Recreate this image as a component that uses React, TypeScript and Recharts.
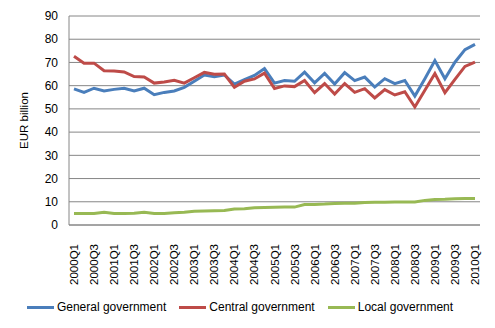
import React from 'react';
import { LineChart, Line, XAxis, YAxis, CartesianGrid, Legend } from 'recharts';

const quarters = [
  '2000Q1', '2000Q2', '2000Q3', '2000Q4', '2001Q1', '2001Q2', '2001Q3', '2001Q4',
  '2002Q1', '2002Q2', '2002Q3', '2002Q4', '2003Q1', '2003Q2', '2003Q3', '2003Q4',
  '2004Q1', '2004Q2', '2004Q3', '2004Q4', '2005Q1', '2005Q2', '2005Q3', '2005Q4',
  '2006Q1', '2006Q2', '2006Q3', '2006Q4', '2007Q1', '2007Q2', '2007Q3', '2007Q4',
  '2008Q1', '2008Q2', '2008Q3', '2008Q4', '2009Q1', '2009Q2', '2009Q3', '2009Q4',
  '2010Q1',
];

const general = [
  58.6, 57.1, 58.9, 57.7, 58.4, 58.9, 57.7, 58.9,
  56.1, 57.1, 57.7, 59.3, 61.9, 64.6, 63.9, 64.6,
  60.7, 62.6, 64.4, 67.4, 61.1, 62.2, 61.9, 65.8,
  61.2, 65.3, 60.7, 65.6, 62.2, 63.7, 59.4, 63.0,
  60.9, 62.2, 55.5, 63.0, 70.8, 63.0, 70.1, 75.5,
  77.8,
];

const central = [
  72.7, 69.7, 69.7, 66.4, 66.3, 65.9, 63.9, 63.7,
  61.1, 61.6, 62.3, 61.1, 63.4, 65.7, 64.9, 65.0,
  59.3, 61.9, 62.9, 65.4, 58.8, 59.9, 59.6, 62.2,
  57.0, 60.9, 56.4, 60.9, 57.1, 58.7, 54.7, 58.3,
  56.0, 57.4, 50.8, 58.0, 65.2, 57.0, 62.7, 68.3,
  70.1,
];

const local = [
  5.0, 5.0, 5.0, 5.5, 5.0, 5.0, 5.1, 5.5,
  5.0, 5.0, 5.3, 5.5, 5.9, 6.0, 6.1, 6.2,
  6.9, 7.0, 7.4, 7.5, 7.6, 7.7, 7.7, 8.8,
  8.8, 9.0, 9.3, 9.4, 9.4, 9.7, 9.8, 9.8,
  9.9, 9.9, 9.9, 10.6, 11.0, 11.1, 11.3, 11.4,
  11.4,
];

const yTicks = [0, 10, 20, 30, 40, 50, 60, 70, 80, 90];

const series = [
  { key: 'general', name: 'General government', color: '#4a7ebb' },
  { key: 'central', name: 'Central government', color: '#be4b48' },
  { key: 'local', name: 'Local government', color: '#98b954' },
];

const data = quarters.map((q, i) => ({
  quarter: q,
  general: general[i],
  central: central[i],
  local: local[i],
}));

const FONT = '"Liberation Sans", Arial, sans-serif';

const QuarterTick = (props: any) => {
  const { x, y, payload } = props;
  const ty = y + 11;
  return (
    <text
      x={x}
      y={ty}
      dy={4}
      transform={`rotate(-90, ${x}, ${ty})`}
      textAnchor="end"
      fontSize={11.5}
      fontFamily={FONT}
      fill="#000"
    >
      {payload.value}
    </text>
  );
};

const LegendContent = () => (
  <div
    style={{
      display: 'flex',
      justifyContent: 'center',
      alignItems: 'center',
      height: 26,
      fontFamily: FONT,
      fontSize: 12,
      color: '#000',
      gap: 13,
    }}
  >
    {series.map((s) => (
      <div key={s.key} style={{ display: 'flex', alignItems: 'center' }}>
        <div style={{ width: 27, height: 3, background: s.color, marginRight: 3 }} />
        <span>{s.name}</span>
      </div>
    ))}
  </div>
);

export default function App() {
  return (
    <div style={{ position: 'absolute', left: 0, top: 0, width: 495, height: 328, background: '#fff' }}>
      <LineChart
        width={495}
        height={328}
        data={data}
        margin={{ top: 16, right: 15, bottom: 8, left: 0 }}
      >
        <CartesianGrid vertical={false} stroke="#868686" strokeWidth={1} />
        <XAxis
          dataKey="quarter"
          interval={1}
          tick={<QuarterTick />}
          tickLine={false}
          axisLine={{ stroke: '#868686' }}
          padding={{ left: 5, right: 5 }}
          height={69}
        />
        <YAxis
          domain={[0, 90]}
          ticks={yTicks}
          width={69}
          tickLine={false}
          axisLine={{ stroke: '#868686' }}
          tick={{ fontSize: 12, fontFamily: FONT, fill: '#000' }}
          tickMargin={5}
          label={{
            value: 'EUR billion',
            angle: -90,
            position: 'insideLeft',
            dx: 19,
            style: { fontSize: 11.5, fontFamily: FONT, fill: '#000', textAnchor: 'middle' },
          }}
        />
        <Legend verticalAlign="bottom" height={26} content={<LegendContent />} />
        {series.map((s) => (
          <Line
            key={s.key}
            type="linear"
            dataKey={s.key}
            name={s.name}
            stroke={s.color}
            strokeWidth={3}
            dot={false}
            isAnimationActive={false}
          />
        ))}
      </LineChart>
    </div>
  );
}
